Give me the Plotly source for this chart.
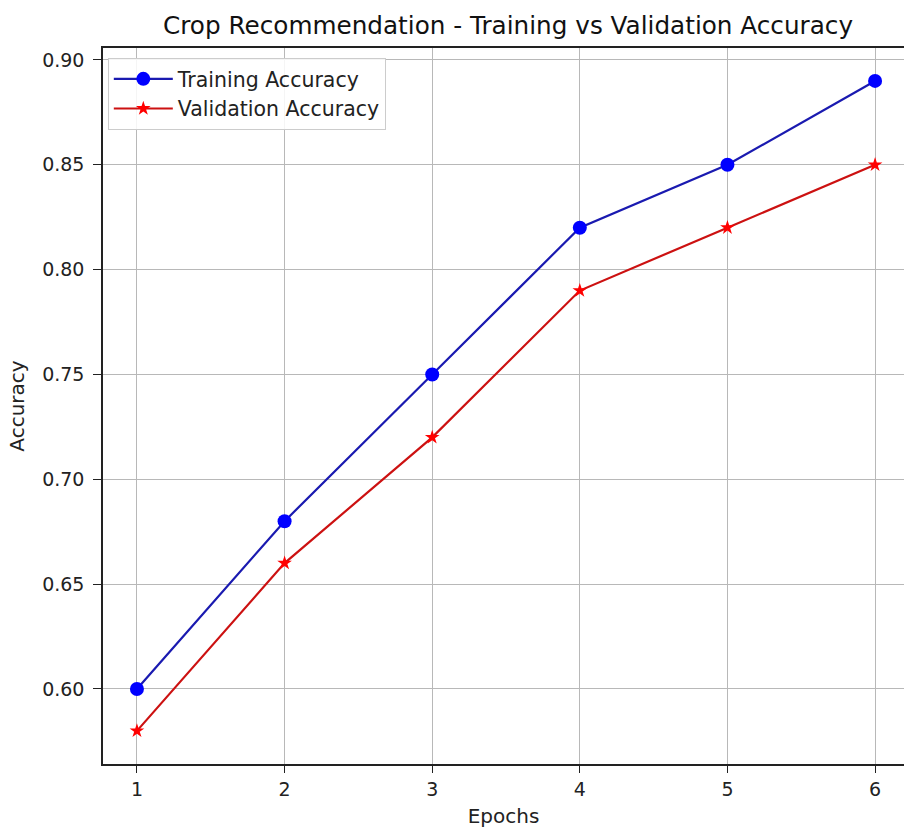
import plotly.graph_objects as go

epochs = [1, 2, 3, 4, 5, 6]
train_acc = [0.60, 0.68, 0.75, 0.82, 0.85, 0.89]
val_acc = [0.58, 0.66, 0.72, 0.79, 0.82, 0.85]
y_ticks = [0.60, 0.65, 0.70, 0.75, 0.80, 0.85, 0.90]

FONT = "DejaVu Sans"

fig = go.Figure()
fig.add_trace(go.Scatter(
    x=epochs, y=train_acc, mode="lines+markers", name="Training Accuracy",
    line=dict(color="#1a1ab0", width=2.2),
    marker=dict(symbol="circle", size=14, color="#0000ff"),
))
fig.add_trace(go.Scatter(
    x=epochs, y=val_acc, mode="lines+markers", name="Validation Accuracy",
    line=dict(color="#cc1111", width=2.2),
    marker=dict(symbol="star", size=11, color="#ff0000"),
))

fig.update_layout(
    width=904, height=829,
    paper_bgcolor="white", plot_bgcolor="white",
    margin=dict(l=103, r=0, t=48, b=65),
    font=dict(family=FONT, size=19, color="#222222"),
    title=dict(text="Crop Recommendation - Training vs Validation Accuracy",
               x=0.562, xanchor="center", y=0.970, yanchor="middle",
               font=dict(family=FONT, size=24.7, color="#111111")),
    showlegend=True,
    legend=dict(x=0.006, y=0.986, xanchor="left", yanchor="top",
                bgcolor="rgba(255,255,255,0.85)", bordercolor="#cccccc", borderwidth=1,
                font=dict(family=FONT, size=20.5, color="#222222"),
                itemwidth=59, tracegroupgap=2),
)

fig.update_xaxes(
    range=[0.77, 6.196], tickmode="array", tickvals=epochs,
    ticktext=[str(e) for e in epochs],
    showgrid=True, gridcolor="#b8b8b8", gridwidth=1,
    showline=True, linecolor="#222222", linewidth=1.5, mirror=True,
    ticks="outside", ticklen=7, tickcolor="#222222",
    title=dict(text="Epochs", standoff=10, font=dict(family=FONT, size=20)),
    zeroline=False,
)
fig.update_yaxes(
    range=[0.5642, 0.9057], tickmode="array", tickvals=y_ticks,
    ticktext=[f"{v:.2f}" for v in y_ticks],
    showgrid=True, gridcolor="#b8b8b8", gridwidth=1,
    showline=True, linecolor="#222222", linewidth=1.5, mirror=False,
    ticks="outside", ticklen=8, tickcolor="#222222",
    ticklabelstandoff=5,
    title=dict(text="Accuracy", standoff=12, font=dict(family=FONT, size=20)),
    zeroline=False,
)

fig.write_html(
    "out.html",
    config={"displayModeBar": False},
    post_script="document.body.style.margin='0';document.body.style.overflow='hidden';",
)
